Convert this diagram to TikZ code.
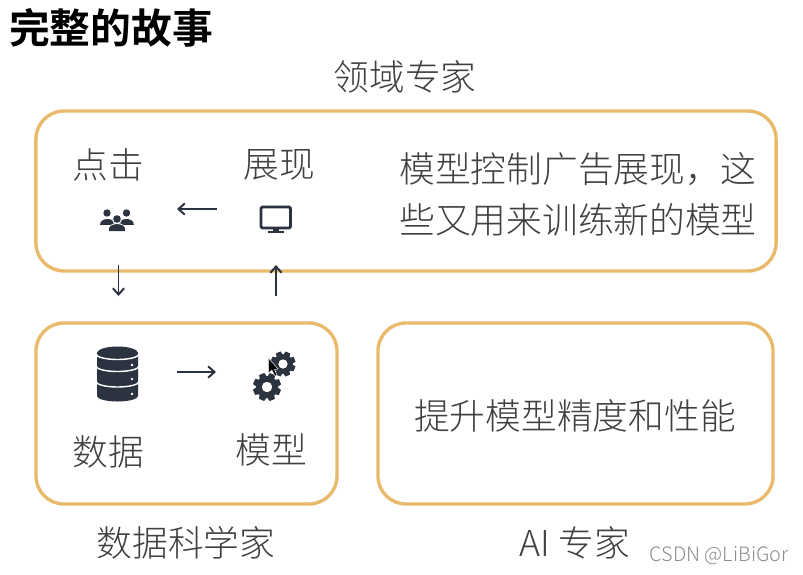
\documentclass[tikz,border=0pt]{standalone}
\usepackage{fontspec}
\setmainfont{Noto Sans CJK SC}
\newfontfamily\lightcjk{Noto Sans CJK SC Light}
\newfontfamily\titlecjk{Noto Sans CJK SC Bold}
\usepackage{tikz}
\usetikzlibrary{arrows.meta}
\definecolor{boxorange}{HTML}{E9BA6C}
\definecolor{icondark}{HTML}{2B3240}
\definecolor{textgray}{HTML}{404040}
\tikzset{
	box/.style={draw=boxorange,line width=2.4pt,rounded corners=20pt,inner sep=0pt},
	label/.style={text=textgray,font=\lightcjk\fontsize{25.4}{30}\selectfont,inner sep=0pt},
	flow/.style={draw=icondark,line width=1.4pt,-{Straight Barb[length=4.5pt,width=8pt]}},
}
\newcommand{\gearicon}[3]{% centre x, centre y, size
	\fill[icondark,even odd rule] (#1,#2) circle (#3*0.78)  (#1,#2) circle (#3*0.38);
	\foreach \i in {0,45,...,315}{
		\fill[icondark,rotate around={\i+22:(#1,#2)}] (#1-#3*0.27,#2-#3*0.7) -- (#1-#3*0.2,#2-#3) -- (#1+#3*0.2,#2-#3) -- (#1+#3*0.27,#2-#3*0.7) -- cycle;
	}
}
\begin{document}
\begin{tikzpicture}[x=0.025cm,y=-0.025cm]
	\useasboundingbox (0,0) rectangle (803,574);
	\fill[white] (0,0) rectangle (803,574);
	% title
	\node[font=\titlecjk\fontsize{29}{30}\selectfont,text=black,inner sep=0pt] (title) at (111,28) {完整的故事};
	% boxes
	\node[box,minimum width=18.5cm,minimum height=4cm] (ads) at (406,191) {};
	\node[box,minimum width=7.525cm,minimum height=4.525cm] (science) at (186.5,413.5) {};
	\node[box,minimum width=9.875cm,minimum height=4.525cm] (ai) at (575.5,413.5) {};
	% labels
	\node[label] (expert) at (405,77) {领域专家};
	\node[label] (click) at (108,165) {点击};
	\node[label] (show) at (279,165) {展现};
	\node[label] (lineone) at (578,169) {模型控制广告展现，这};
	\node[label] (linetwo) at (578,220) {些又用来训练新的模型};
	\node[label] (data) at (108,452) {数据};
	\node[label] (model) at (271,450) {模型};
	\node[label] (boost) at (575,416) {提升模型精度和性能};
	\node[label] (scientist) at (186,543) {数据科学家};
	\node[label] (aiexpert) at (575,543) {AI 专家};
	\node[text=gray!90,font=\lightcjk\fontsize{14.1}{16}\selectfont,inner sep=0pt] (mark) at (719,556) {CSDN @LiBiGor};
	% people
	\foreach \i/\j in {107/213,126.5/213}{
		\fill[icondark] (\i,\j) circle (3.7);
		\fill[icondark] (\i-7.5,\j+12) .. controls (\i-7.5,\j+4) and (\i+7.5,\j+4) .. (\i+7.5,\j+12) -- cycle;
	}
	\fill[white] (117,219) circle (5);
	\fill[white] (107,232) .. controls (107,220) and (127,220) .. (127,232) -- cycle;
	\fill[icondark] (117,219) circle (3.8);
	\fill[icondark] (109,231) -- (109,229) .. controls (109,222.5) and (125,222.5) .. (125,229) -- (125,231) -- cycle;
	% monitor
	\draw[icondark,line width=2pt,rounded corners=1pt] (261,207) rectangle (290.5,228);
	\fill[icondark] (273,228) rectangle (279,232);
	\fill[icondark] (268,231) rectangle (284,233);
	% database
	\fill[icondark] (97,353) -- (97,396) arc[start angle=180,end angle=0,x radius=20.5,y radius=5.5] -- (138,353) -- cycle;
	\fill[icondark] (117.5,353) ellipse (20.5 and 6.5);
	\foreach \j in {354,366,381.5}{
		\draw[white,line width=1pt] (96,\j) arc[start angle=180,end angle=0,x radius=21.5,y radius=5.5];
	}
	\foreach \j in {365,379,394}{
		\fill[white] (132,\j) circle (1.4);
	}
	% gears
	\gearicon{283}{364}{12.5}
	\gearicon{267}{387}{14}
	% cursor
	\fill[black,draw=white,line width=0.3pt] (268.5,358) -- (268.5,373) -- (272,370) -- (275,376) -- (277,375) -- (274.5,369.5) -- (278,369) -- cycle;
	% arrows
	\coordinate (showout) at (217,209);
	\coordinate (clickin) at (177,209);
	\coordinate (clickout) at (118.5,265);
	\coordinate (datain) at (118.5,296);
	\coordinate (modelout) at (276,296);
	\coordinate (showin) at (276,265);
	\coordinate (dataout) at (177,372);
	\coordinate (modelin) at (216,372);
	\draw[flow] (showout) -- (clickin);
	\draw[flow] (clickout) -- (datain);
	\draw[flow] (modelout) -- (showin);
	\draw[flow] (dataout) -- (modelin);
\end{tikzpicture}
\end{document}
